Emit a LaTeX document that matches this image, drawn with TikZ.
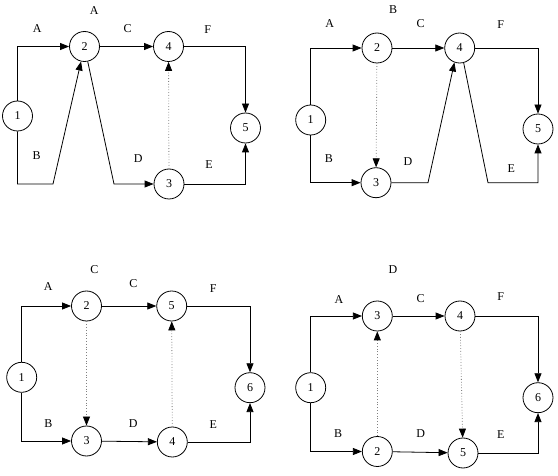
\documentclass[tikz,border=0pt]{standalone}
\usepackage{fontspec}
\setmainfont{Liberation Serif}
\usetikzlibrary{arrows.meta}

\begin{document}
\begin{tikzpicture}[x=1pt, y=-1pt, line width=0.8pt,
  font=\fontsize{12}{14}\selectfont,
  evento/.style={circle, draw, minimum size=30pt, inner sep=0pt},
  etiq/.style={inner sep=0pt},
  flecha/.style={-{Triangle[length=9pt,width=7pt,color=black]}},
  ficticia/.style={flecha, draw=gray, dotted}]

\useasboundingbox (0,0) rectangle (558,476);

% 1. Red superior izquierda
\node[evento] (a1) at (17.5,116) {1};
\node[evento] (a2) at (84.5,46.5) {2};
\node[evento] (a4) at (168.5,46.5) {4};
\node[evento] (a3) at (169,184) {3};
\node[evento] (a5) at (245.5,128) {5};
\coordinate (a1b) at (53,184);
\coordinate (a2d) at (114,184);
\draw[flecha] (a1.north) |- (a2);
\draw[flecha] (a1.south) |- (a1b) -- (a2);
\draw[flecha] (a2) -- (a2d) -- (a3);
\draw[flecha] (a2) -- (a4);
\draw[ficticia] (a3) -- (a4);
\draw[flecha] (a4) -| (a5);
\draw[flecha] (a3) -| (a5);
\node[etiq] (ta) at (94.3,10.7) {A};
\node[etiq] at (37.3,28.3) {A};
\node[etiq] at (127.7,28.3) {C};
\node[etiq] at (207.7,29.3) {F};
\node[etiq] at (36.7,155.7) {B};
\node[etiq] at (138.3,159) {D};
\node[etiq] at (209,165) {E};

% 2. Red superior derecha
\node[evento] (b1) at (310.7,120) {1};
\node[evento] (b2) at (377,48) {2};
\node[evento] (b4) at (459.7,48) {4};
\node[evento] (b3) at (376,182.7) {3};
\node[evento] (b5) at (538,129) {5};
\coordinate (b3d) at (428,182.7);
\coordinate (b4e) at (488,182.7);
\draw[flecha] (b1.north) |- (b2);
\draw[flecha] (b1.south) |- (b3);
\draw[ficticia] (b2) -- (b3);
\draw[flecha] (b2) -- (b4);
\draw[flecha] (b3) -- (b3d) -- (b4.250);
\draw[flecha] (b4.285) -- (b4e) -| (b5);
\draw[flecha] (b4) -| (b5);
\node[etiq] (tb) at (393,10) {B};
\node[etiq] at (329.7,23.3) {A};
\node[etiq] at (420.7,23.3) {C};
\node[etiq] at (500.7,24.3) {F};
\node[etiq] at (329,159) {B};
\node[etiq] at (408,161.7) {D};
\node[etiq] at (511.3,168.3) {E};

% 3. Red inferior izquierda
\node[evento] (c1) at (21.7,377.3) {1};
\node[evento] (c2) at (86.5,306) {2};
\node[evento] (c5) at (171.7,306) {5};
\node[evento] (c3) at (86.5,441) {3};
\node[evento] (c4) at (172.3,442) {4};
\node[evento] (c6) at (250,387.7) {6};
\draw[flecha] (c1.north) |- (c2);
\draw[flecha] (c1.south) |- (c3);
\draw[ficticia] (c2) -- (c3);
\draw[flecha] (c2) -- (c5);
\draw[flecha] (c3) -- (c4);
\draw[ficticia] (c4) -- (c5);
\draw[flecha] (c5) -| (c6);
\draw[flecha] (c4) -| (c6);
\node[etiq] (tc) at (94.3,270) {C};
\node[etiq] at (48.3,286.7) {A};
\node[etiq] at (133.3,283.3) {C};
\node[etiq] at (213.3,288.3) {F};
\node[etiq] at (48.3,423.3) {B};
\node[etiq] at (133.3,424) {D};
\node[etiq] at (213.3,425) {E};

% 4. Red inferior derecha
\node[evento] (d1) at (310.7,387.7) {1};
\node[evento] (d3) at (377.3,316) {3};
\node[evento] (d4) at (460,316) {4};
\node[evento] (d2) at (377.3,451.5) {2};
\node[evento] (d5) at (463,453) {5};
\node[evento] (d6) at (538,397.7) {6};
\draw[flecha] (d1.north) |- (d3);
\draw[flecha] (d1.south) |- (d2);
\draw[ficticia] (d2) -- (d3);
\draw[flecha] (d3) -- (d4);
\draw[ficticia] (d4) -- (d5);
\draw[flecha] (d2) -- (d5);
\draw[flecha] (d4) -| (d6);
\draw[flecha] (d5) -| (d6);
\node[etiq] (td) at (393,270) {D};
\node[etiq] at (339,300) {A};
\node[etiq] at (420.7,298.3) {C};
\node[etiq] at (500.7,296.7) {F};
\node[etiq] at (338,433.3) {B};
\node[etiq] at (420.7,433.3) {D};
\node[etiq] at (500.7,435) {E};
\end{tikzpicture}
\end{document}
